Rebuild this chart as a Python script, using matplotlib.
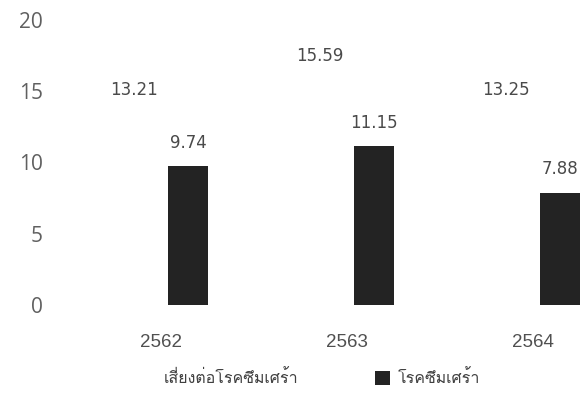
import matplotlib
matplotlib.use('Agg')
import matplotlib.pyplot as plt
from matplotlib import font_manager
from matplotlib.ft2font import FT2Font
import numpy as np


years = ['2562', '2563', '2564']
risk_values = [13.21, 15.59, 13.25]
depression_values = [9.74, 11.15, 7.88]
series_names = ['เสี่ยงต่อโรคซึมเศร้า', 'โรคซึมเศร้า']


def find_thai_font():
    # first installed family that actually has Thai glyphs
    seen = set()
    for f in font_manager.fontManager.ttflist:
        if f.name in seen:
            continue
        seen.add(f.name)
        try:
            cmap = FT2Font(f.fname).get_charmap()
        except Exception:
            continue
        if 0x0E42 in cmap and 0x0E04 in cmap:
            return f.name
    return 'DejaVu Sans'


thai_font = find_thai_font()

fig = plt.figure(figsize=(5.81, 3.93), dpi=100)
ax = fig.add_axes([68 / 581, 88 / 393, 1 - 68 / 581, 285 / 393])

x = np.arange(len(years))
width = 0.215
offset = 0.145

risk_bars = ax.bar(x - offset, risk_values, width, color='white', label=series_names[0])
dep_bars = ax.bar(x + offset, depression_values, width, color='#232323', label=series_names[1])

for bar, v in zip(risk_bars, risk_values):
    ax.annotate(f'{v:.2f}', (bar.get_x() + bar.get_width() / 2, v),
                xytext=(0, 12.5), textcoords='offset points', ha='center', va='bottom',
                fontsize=12, color='#4a4a4a', family='DejaVu Sans')
for bar, v in zip(dep_bars, depression_values):
    ax.annotate(f'{v:.2f}', (bar.get_x() + bar.get_width() / 2, v),
                xytext=(0, 10.5), textcoords='offset points', ha='center', va='bottom',
                fontsize=12, color='#4a4a4a', family='DejaVu Sans')

ax.set_ylim(0, 20)
ax.set_yticks([0, 5, 10, 15, 20])
ax.set_xlim(-0.5, (581 - 68) / 186 - 0.5)
ax.set_xticks(x)
ax.set_xticklabels(years, family='Liberation Sans', fontsize=13.5, color='#505050')
for lbl in ax.get_yticklabels():
    lbl.set_family('Open Sans')
    lbl.set_fontsize(15)
    lbl.set_color('#606060')
ax.tick_params(axis='y', length=0, pad=18)
ax.tick_params(axis='x', length=0, pad=21)
for s in ax.spines.values():
    s.set_visible(False)

fig.legend(handles=[risk_bars, dep_bars], labels=series_names, loc='center',
           bbox_to_anchor=(311 / 581, 1 - 379 / 393), ncol=2, frameon=False,
           prop={'family': thai_font, 'size': 11.5}, labelcolor='#404040',
           handlelength=0.93, handleheight=0.93, handletextpad=0.5, columnspacing=4.8)

fig.savefig('out.png', dpi=100)
